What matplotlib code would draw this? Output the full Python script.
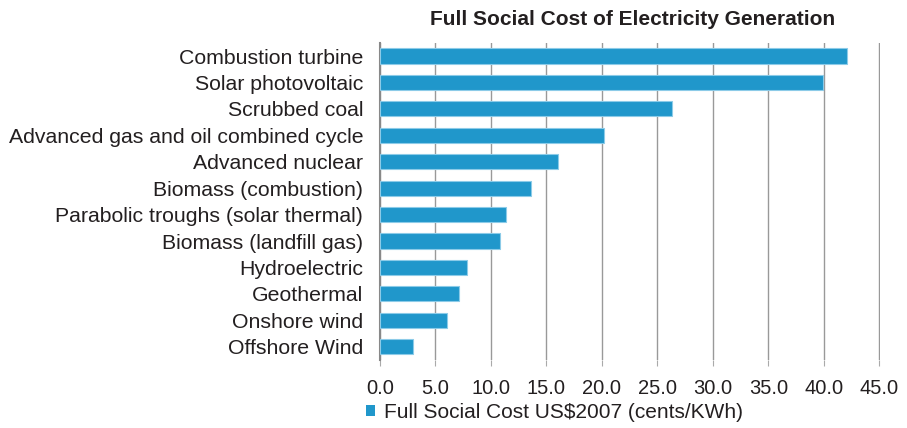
import matplotlib
matplotlib.use('Agg')
import matplotlib.pyplot as plt
from matplotlib.patches import Patch

plt.rcParams['font.family'] = ['Liberation Sans', 'DejaVu Sans']

# Full social cost by generation source, cents/kWh (US$2007)
sources = [
    "Combustion turbine",
    "Solar photovoltaic",
    "Scrubbed coal",
    "Advanced gas and oil combined cycle",
    "Advanced nuclear",
    "Biomass (combustion)",
    "Parabolic troughs (solar thermal)",
    "Biomass (landfill gas)",
    "Hydroelectric",
    "Geothermal",
    "Onshore wind",
    "Offshore Wind",
]
costs = [42.1, 39.9, 26.3, 20.2, 16.0, 13.6, 11.4, 10.8, 7.8, 7.1, 6.0, 3.0]
xticks = [0, 5, 10, 15, 20, 25, 30, 35, 40, 45]

BAR_COLOR = '#2097cb'
TEXT_COLOR = '#231f20'

fig = plt.figure(figsize=(9.07, 4.28), dpi=100)
ax = fig.add_axes([0.419, 0.159, 0.551, 0.741])

ypos = list(range(len(sources)))
ax.barh(ypos, costs, height=0.57, color=BAR_COLOR, edgecolor='#8ccbe8',
        linewidth=0.8, zorder=3)
ax.set_ylim(len(sources) - 0.5, -0.5)
ax.set_xlim(0, 45.05)
ax.set_yticks(ypos)
ax.set_yticklabels(sources, fontsize=15.3, color=TEXT_COLOR)
ax.set_xticks(xticks)
ax.set_xticklabels([f"{v:.1f}" for v in xticks], fontsize=14.5, color=TEXT_COLOR)
ax.tick_params(axis='y', length=0, pad=12)
ax.tick_params(axis='x', length=4, color='#aaaaaa', pad=10)

ax.grid(axis='x', color='#999999', linewidth=1.0, zorder=0)
for side in ['top', 'right', 'bottom']:
    ax.spines[side].set_visible(False)
ax.spines['left'].set_color('#888888')
ax.spines['left'].set_linewidth(1.5)

fig.text(0.697, 0.955, "Full Social Cost of Electricity Generation",
         ha='center', va='center', fontsize=15, fontweight='bold',
         color=TEXT_COLOR)

handle = Patch(facecolor=BAR_COLOR, edgecolor='none')
fig.legend([handle], ["Full Social Cost US$2007 (cents/KWh)"],
           loc='center left', bbox_to_anchor=(0.404, 0.036), frameon=False,
           fontsize=15, handlelength=0.42, handleheight=0.42,
           handletextpad=0.4, borderpad=0, borderaxespad=0,
           labelcolor=TEXT_COLOR)

fig.savefig('out.png', dpi=100)
plt.close(fig)
